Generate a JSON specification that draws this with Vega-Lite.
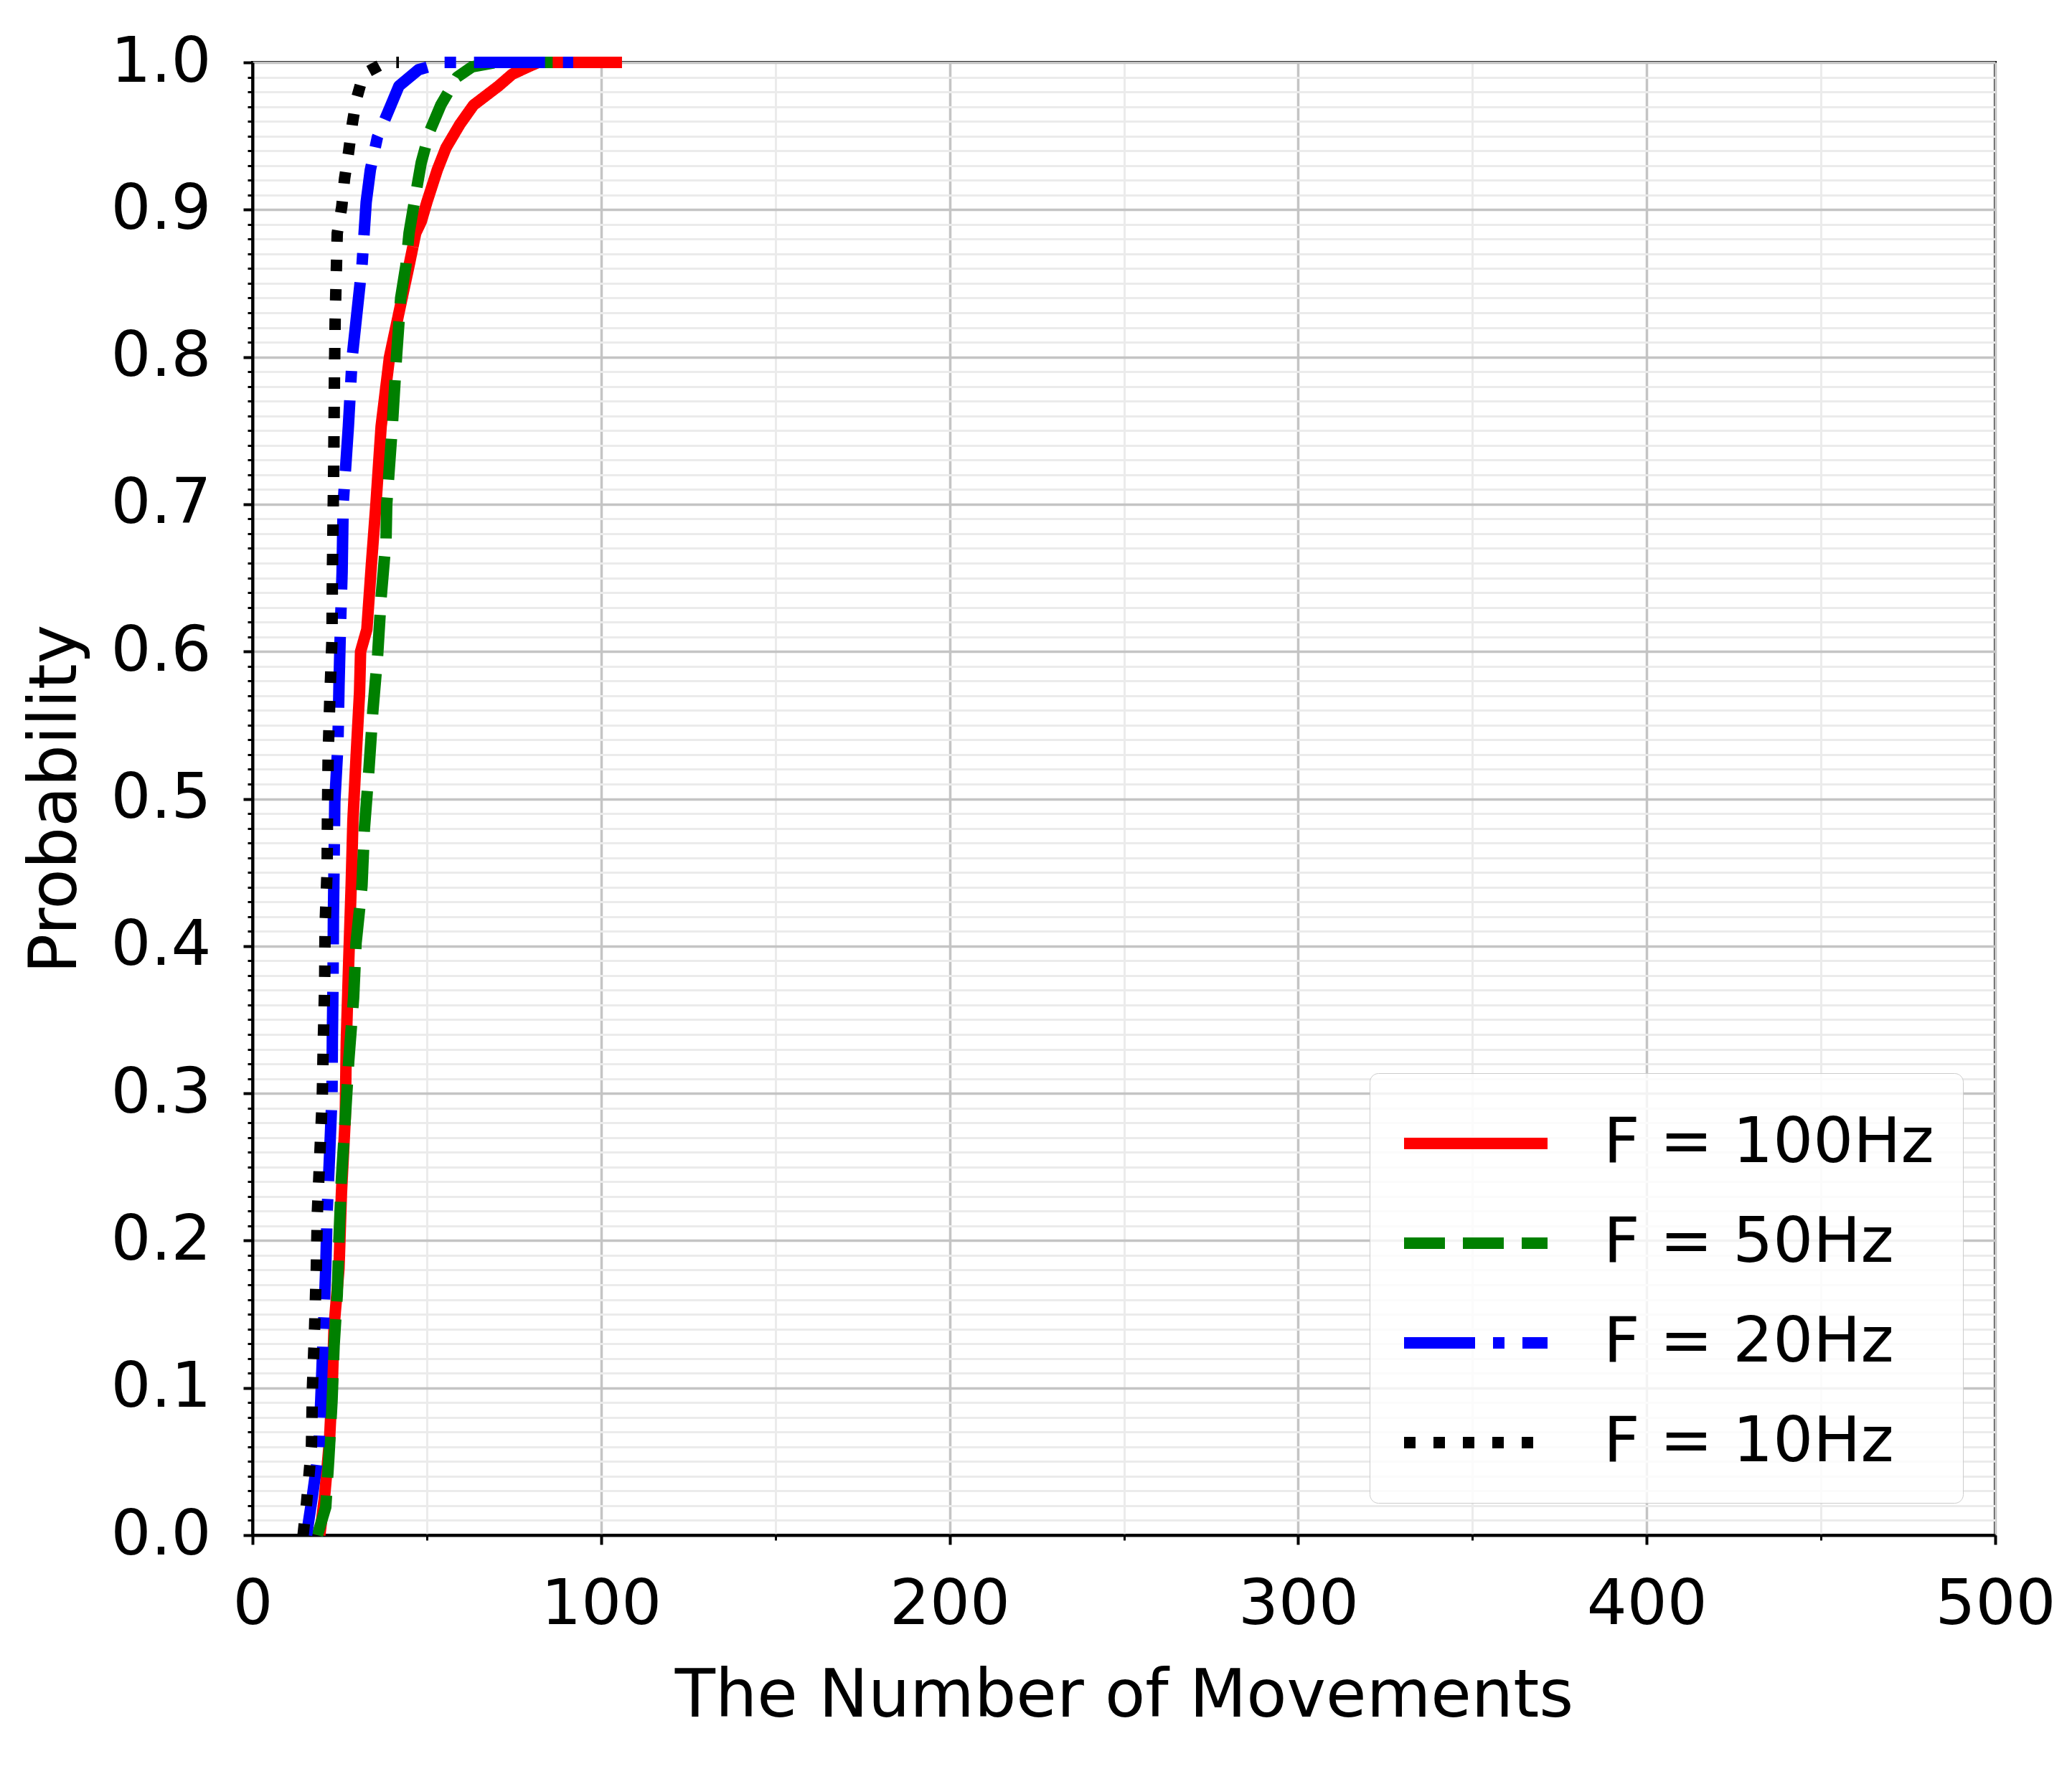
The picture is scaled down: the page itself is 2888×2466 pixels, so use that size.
{
  "$schema": "https://vega.github.io/schema/vega-lite/v6.json",
  "width": 2429,
  "height": 2053,
  "autosize": {"type": "none"},
  "padding": {"left": 352, "top": 87, "right": 107, "bottom": 326},
  "background": "white",
  "config": {
    "font": "DejaVu Sans",
    "view": {"stroke": "black", "strokeWidth": 4},
    "axis": {"labelColor": "black", "titleColor": "black", "tickColor": "black", "domainColor": "black", "titleFontWeight": "normal", "labelFont": "DejaVu Sans", "titleFont": "DejaVu Sans"}
  },
  "data": {"values": [
    {"series": "F = 100Hz", "x": 19.3, "p": 0},
    {"series": "F = 100Hz", "x": 20.7, "p": 0.027},
    {"series": "F = 100Hz", "x": 22.1, "p": 0.065},
    {"series": "F = 100Hz", "x": 22.9, "p": 0.104},
    {"series": "F = 100Hz", "x": 23.4, "p": 0.142},
    {"series": "F = 100Hz", "x": 24.8, "p": 0.181},
    {"series": "F = 100Hz", "x": 25.5, "p": 0.232},
    {"series": "F = 100Hz", "x": 26.6, "p": 0.283},
    {"series": "F = 100Hz", "x": 26.9, "p": 0.335},
    {"series": "F = 100Hz", "x": 27.6, "p": 0.39},
    {"series": "F = 100Hz", "x": 28.3, "p": 0.441},
    {"series": "F = 100Hz", "x": 28.8, "p": 0.485},
    {"series": "F = 100Hz", "x": 29.7, "p": 0.528},
    {"series": "F = 100Hz", "x": 30.7, "p": 0.572},
    {"series": "F = 100Hz", "x": 31.0, "p": 0.6},
    {"series": "F = 100Hz", "x": 32.8, "p": 0.615},
    {"series": "F = 100Hz", "x": 34.1, "p": 0.659},
    {"series": "F = 100Hz", "x": 35.4, "p": 0.7},
    {"series": "F = 100Hz", "x": 36.9, "p": 0.753},
    {"series": "F = 100Hz", "x": 39.3, "p": 0.8},
    {"series": "F = 100Hz", "x": 42.9, "p": 0.84},
    {"series": "F = 100Hz", "x": 44.9, "p": 0.862},
    {"series": "F = 100Hz", "x": 46.8, "p": 0.884},
    {"series": "F = 100Hz", "x": 48.4, "p": 0.892},
    {"series": "F = 100Hz", "x": 50.0, "p": 0.905},
    {"series": "F = 100Hz", "x": 53.0, "p": 0.927},
    {"series": "F = 100Hz", "x": 55.5, "p": 0.942},
    {"series": "F = 100Hz", "x": 59.5, "p": 0.958},
    {"series": "F = 100Hz", "x": 63.4, "p": 0.971},
    {"series": "F = 100Hz", "x": 70.6, "p": 0.984},
    {"series": "F = 100Hz", "x": 74.5, "p": 0.992},
    {"series": "F = 100Hz", "x": 80.0, "p": 0.998},
    {"series": "F = 100Hz", "x": 82.0, "p": 1},
    {"series": "F = 100Hz", "x": 106.0, "p": 1},
    {"series": "F = 50Hz", "x": 18.6, "p": 0},
    {"series": "F = 50Hz", "x": 21.0, "p": 0.019},
    {"series": "F = 50Hz", "x": 21.9, "p": 0.053},
    {"series": "F = 50Hz", "x": 22.8, "p": 0.091},
    {"series": "F = 50Hz", "x": 23.4, "p": 0.129},
    {"series": "F = 50Hz", "x": 24.3, "p": 0.163},
    {"series": "F = 50Hz", "x": 24.8, "p": 0.201},
    {"series": "F = 50Hz", "x": 25.5, "p": 0.242},
    {"series": "F = 50Hz", "x": 26.6, "p": 0.283},
    {"series": "F = 50Hz", "x": 27.6, "p": 0.322},
    {"series": "F = 50Hz", "x": 29.0, "p": 0.365},
    {"series": "F = 50Hz", "x": 29.7, "p": 0.402},
    {"series": "F = 50Hz", "x": 31.4, "p": 0.441},
    {"series": "F = 50Hz", "x": 32.1, "p": 0.48},
    {"series": "F = 50Hz", "x": 33.4, "p": 0.52},
    {"series": "F = 50Hz", "x": 34.5, "p": 0.559},
    {"series": "F = 50Hz", "x": 35.9, "p": 0.598},
    {"series": "F = 50Hz", "x": 36.9, "p": 0.637},
    {"series": "F = 50Hz", "x": 38.3, "p": 0.676},
    {"series": "F = 50Hz", "x": 38.5, "p": 0.7},
    {"series": "F = 50Hz", "x": 40.1, "p": 0.753},
    {"series": "F = 50Hz", "x": 41.3, "p": 0.8},
    {"series": "F = 50Hz", "x": 42.5, "p": 0.84},
    {"series": "F = 50Hz", "x": 44.0, "p": 0.862},
    {"series": "F = 50Hz", "x": 44.9, "p": 0.884},
    {"series": "F = 50Hz", "x": 46.4, "p": 0.905},
    {"series": "F = 50Hz", "x": 48.4, "p": 0.932},
    {"series": "F = 50Hz", "x": 50.8, "p": 0.953},
    {"series": "F = 50Hz", "x": 54.0, "p": 0.971},
    {"series": "F = 50Hz", "x": 58.7, "p": 0.99},
    {"series": "F = 50Hz", "x": 63.0, "p": 0.997},
    {"series": "F = 50Hz", "x": 70.0, "p": 1},
    {"series": "F = 50Hz", "x": 90.0, "p": 1},
    {"series": "F = 20Hz", "x": 15.5, "p": 0},
    {"series": "F = 20Hz", "x": 17.2, "p": 0.027},
    {"series": "F = 20Hz", "x": 19.0, "p": 0.058},
    {"series": "F = 20Hz", "x": 19.7, "p": 0.099},
    {"series": "F = 20Hz", "x": 20.3, "p": 0.137},
    {"series": "F = 20Hz", "x": 21.0, "p": 0.181},
    {"series": "F = 20Hz", "x": 21.4, "p": 0.219},
    {"series": "F = 20Hz", "x": 22.1, "p": 0.258},
    {"series": "F = 20Hz", "x": 22.8, "p": 0.299},
    {"series": "F = 20Hz", "x": 22.9, "p": 0.337},
    {"series": "F = 20Hz", "x": 23.1, "p": 0.378},
    {"series": "F = 20Hz", "x": 23.2, "p": 0.42},
    {"series": "F = 20Hz", "x": 23.4, "p": 0.457},
    {"series": "F = 20Hz", "x": 23.6, "p": 0.498},
    {"series": "F = 20Hz", "x": 24.5, "p": 0.537},
    {"series": "F = 20Hz", "x": 24.8, "p": 0.576},
    {"series": "F = 20Hz", "x": 25.2, "p": 0.615},
    {"series": "F = 20Hz", "x": 25.7, "p": 0.654},
    {"series": "F = 20Hz", "x": 26.0, "p": 0.7},
    {"series": "F = 20Hz", "x": 27.5, "p": 0.753},
    {"series": "F = 20Hz", "x": 28.6, "p": 0.8},
    {"series": "F = 20Hz", "x": 31.4, "p": 0.862},
    {"series": "F = 20Hz", "x": 32.6, "p": 0.905},
    {"series": "F = 20Hz", "x": 33.8, "p": 0.927},
    {"series": "F = 20Hz", "x": 35.8, "p": 0.949},
    {"series": "F = 20Hz", "x": 39.7, "p": 0.971},
    {"series": "F = 20Hz", "x": 42.0, "p": 0.984},
    {"series": "F = 20Hz", "x": 47.6, "p": 0.995},
    {"series": "F = 20Hz", "x": 54.7, "p": 1},
    {"series": "F = 20Hz", "x": 92.0, "p": 1},
    {"series": "F = 10Hz", "x": 14.5, "p": 0},
    {"series": "F = 10Hz", "x": 15.5, "p": 0.022},
    {"series": "F = 10Hz", "x": 16.9, "p": 0.06},
    {"series": "F = 10Hz", "x": 17.2, "p": 0.101},
    {"series": "F = 10Hz", "x": 17.8, "p": 0.14},
    {"series": "F = 10Hz", "x": 18.3, "p": 0.181},
    {"series": "F = 10Hz", "x": 18.6, "p": 0.219},
    {"series": "F = 10Hz", "x": 19.3, "p": 0.258},
    {"series": "F = 10Hz", "x": 20.0, "p": 0.296},
    {"series": "F = 10Hz", "x": 20.3, "p": 0.335},
    {"series": "F = 10Hz", "x": 20.7, "p": 0.374},
    {"series": "F = 10Hz", "x": 20.8, "p": 0.413},
    {"series": "F = 10Hz", "x": 21.4, "p": 0.452},
    {"series": "F = 10Hz", "x": 21.5, "p": 0.49},
    {"series": "F = 10Hz", "x": 21.7, "p": 0.53},
    {"series": "F = 10Hz", "x": 22.2, "p": 0.57},
    {"series": "F = 10Hz", "x": 22.8, "p": 0.609},
    {"series": "F = 10Hz", "x": 22.9, "p": 0.65},
    {"series": "F = 10Hz", "x": 23.1, "p": 0.689},
    {"series": "F = 10Hz", "x": 23.3, "p": 0.727},
    {"series": "F = 10Hz", "x": 23.5, "p": 0.786},
    {"series": "F = 10Hz", "x": 23.7, "p": 0.825},
    {"series": "F = 10Hz", "x": 24.3, "p": 0.884},
    {"series": "F = 10Hz", "x": 25.6, "p": 0.902},
    {"series": "F = 10Hz", "x": 26.4, "p": 0.921},
    {"series": "F = 10Hz", "x": 27.5, "p": 0.938},
    {"series": "F = 10Hz", "x": 28.6, "p": 0.958},
    {"series": "F = 10Hz", "x": 29.8, "p": 0.975},
    {"series": "F = 10Hz", "x": 31.8, "p": 0.992},
    {"series": "F = 10Hz", "x": 38.0, "p": 1},
    {"series": "F = 10Hz", "x": 42.0, "p": 1}
  ]},
  "resolve": {"axis": {"x": "independent", "y": "independent"}},
  "layer": [
    {
      "mark": {"type": "line", "opacity": 0},
      "encoding": {
        "x": {"field": "x", "type": "quantitative", "scale": {"domain": [0, 500], "nice": false, "zero": false},
          "axis": {"orient": "bottom", "values": [50, 150, 250, 350, 450], "labels": false, "domain": false, "title": null, "tickSize": 7, "tickWidth": 3, "grid": true, "gridColor": "#ebebeb", "gridWidth": 3}},
        "y": {"field": "p", "type": "quantitative", "scale": {"domain": [0, 1], "nice": false, "zero": false},
          "axis": {"orient": "left", "values": [0.01,0.02,0.03,0.04,0.05,0.06,0.07,0.08,0.09,0.11,0.12,0.13,0.14,0.15,0.16,0.17,0.18,0.19,0.21,0.22,0.23,0.24,0.25,0.26,0.27,0.28,0.29,0.31,0.32,0.33,0.34,0.35,0.36,0.37,0.38,0.39,0.41,0.42,0.43,0.44,0.45,0.46,0.47,0.48,0.49,0.51,0.52,0.53,0.54,0.55,0.56,0.57,0.58,0.59,0.61,0.62,0.63,0.64,0.65,0.66,0.67,0.68,0.69,0.71,0.72,0.73,0.74,0.75,0.76,0.77,0.78,0.79,0.81,0.82,0.83,0.84,0.85,0.86,0.87,0.88,0.89,0.91,0.92,0.93,0.94,0.95,0.96,0.97,0.98,0.99], "labels": false, "domain": false, "title": null, "tickSize": 7, "tickWidth": 3, "grid": true, "gridColor": "#ebebeb", "gridWidth": 3}},
        "detail": {"field": "series"},
        "order": {"value": null}
      }
    },
    {
      "mark": {"type": "line", "strokeWidth": 16, "strokeCap": "butt", "strokeJoin": "round"},
      "encoding": {
        "x": {"field": "x", "type": "quantitative", "scale": {"domain": [0, 500], "nice": false, "zero": false},
          "axis": {"orient": "bottom", "values": [0, 100, 200, 300, 400, 500], "title": "The Number of Movements", "labelFontSize": 88, "titleFontSize": 92, "labelPadding": 40, "titlePadding": 38, "tickSize": 13, "tickWidth": 4, "domainWidth": 4, "grid": true, "gridColor": "#c4c4c4", "gridWidth": 3.5, "labelFlush": false}},
        "y": {"field": "p", "type": "quantitative", "scale": {"domain": [0, 1], "nice": false, "zero": false},
          "axis": {"orient": "left", "values": [0, 0.1, 0.2, 0.3, 0.4, 0.5, 0.6, 0.7, 0.8, 0.9, 1.0], "format": ".1f", "title": "Probability", "labelFontSize": 88, "titleFontSize": 92, "labelPadding": 45, "titlePadding": 30, "tickSize": 13, "tickWidth": 4, "domainWidth": 4, "grid": true, "gridColor": "#c4c4c4", "gridWidth": 3.5, "labelFlush": false}},
        "color": {"field": "series", "type": "nominal",
          "scale": {"domain": ["F = 100Hz", "F = 50Hz", "F = 20Hz", "F = 10Hz"], "range": ["#ff0000", "#008000", "#0000ff", "#000000"]},
          "legend": {"title": null, "orient": "bottom-right", "offset": 45, "labelFontSize": 88, "labelFont": "DejaVu Sans", "labelColor": "black", "labelLimit": 2000, "symbolType": "M-1,0H3", "symbolSize": 10000, "symbolStrokeWidth": 16, "labelOffset": 170, "rowPadding": 37, "padding": 40, "fillColor": "rgba(255,255,255,0.8)", "strokeColor": "#cccccc", "cornerRadius": 12}},
        "strokeDash": {"field": "series", "type": "nominal",
          "scale": {"domain": ["F = 100Hz", "F = 50Hz", "F = 20Hz", "F = 10Hz"], "range": [[1, 0], [57, 25], [99, 25, 16, 25], [16, 25]]},
          "legend": null},
        "order": {"value": null}
      }
    }
  ]
}
